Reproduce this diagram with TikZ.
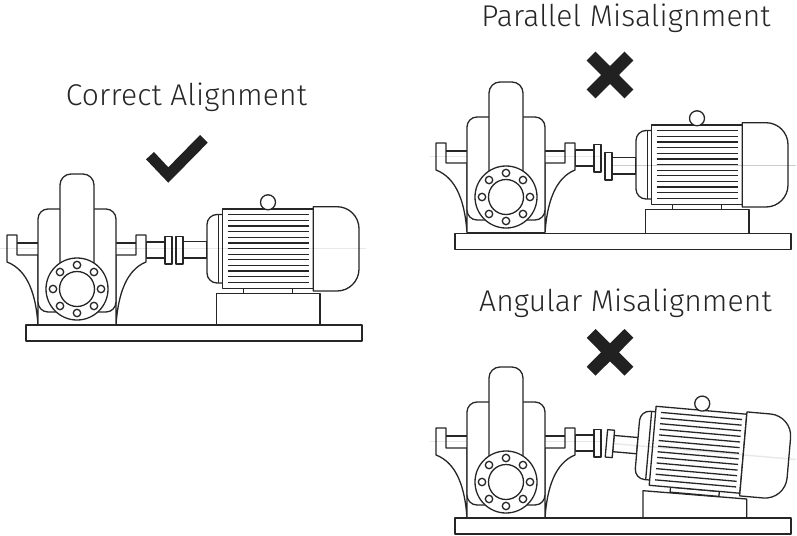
\documentclass[tikz,border=0pt]{standalone}
\usepackage{fontspec}
\setmainfont{Fira Sans Light}
\tikzset{
  x=1pt,y=-1pt,
  title node/.style={font=\fontsize{30}{34}\selectfont\addfontfeature{LetterSpace=0.5},text=black!85,inner sep=0pt,anchor=center},
  part/.style={draw=black!85,line width=1.3pt,fill=white,line join=round},
  fin/.style={draw=black!85,line width=1.3pt},
  axis line/.style={draw=black,opacity=0.09,line width=1.4pt},
  mark sign/.style={fill=black!87,draw=none},
  pump/.pic={
    % shaft and half coupling
    \draw[part] (146,242) rectangle (165,258);
    \draw[part] (165,236.5) rectangle (172,264);
    % feet and brackets
    \draw[part] (7,235) -- (17,235) -- (17,255) -- (38,255) -- (38,325) .. controls (36,295) and (28,270) .. (7,262) -- cycle;
    \draw[part] (146,235) -- (136,235) -- (136,255) -- (116,255) -- (116,325) .. controls (118,295) and (126,270) .. (146,262) -- cycle;
    \draw[fin] (17,243) -- (38,243) (136,243) -- (116,243) (38,325) -- (116,325);
    % housing
    \draw[part,rounded corners=10] (38,209) rectangle (116,312);
    \draw[part] (60,270) [rounded corners=11] -- (60,174) -- (94,174) [sharp corners] -- (94,270);
    % flange
    \draw[part] (77,289) circle[radius=31];
    \draw[part] (77,289) circle[radius=17.5];
    \foreach \a in {0,45,...,315}
      \draw[part] (77,289) ++(\a:24) circle[radius=3.7];
  },
  motor/.pic={
    \draw[part] (183,241.7) rectangle (207,258);
    \draw[part] (176,236.5) rectangle (183,264);
    \draw[part] (243.7,288.3) rectangle (292.7,293.3);
    \draw[part] (222,214.5) [rounded corners=10] -- (207,214.5) -- (207,283) [sharp corners] -- (222,283);
    \draw[fin] (218.3,214.5) -- (218.3,283);
    \draw[part] (222.3,209) rectangle (313.3,288.3);
    \foreach \i in {0,...,12}
      \draw[fin] (227.7,214.7+5.64*\i) -- (309,214.7+5.64*\i);
    \draw[part] (268,202.3) circle[radius=7.5];
    \draw[part] (313.3,206.7) [rounded corners=22] -- (359,206.7) -- (359,291) [sharp corners] -- (313.3,291) -- cycle;
  },
  base plate/.pic={
    \draw[part] (26,325) rectangle (362,341);
  },
  cross sign/.pic={
    \fill[mark sign] (-14.5,-23.3) -- (0,-9) -- (14.5,-23.3) -- (23.3,-14.5) -- (9,0) -- (23.3,14.5) -- (14.5,23.3) -- (0,9) -- (-14.5,23.3) -- (-23.3,14.5) -- (-9,0) -- (-23.3,-14.5) -- cycle;
  }
}
\begin{document}
\begin{tikzpicture}
\useasboundingbox (0,0) rectangle (797,535);
% correct alignment
\node[title node] (correct) at (186.5,97) {Correct Alignment};
\pic {pump};
\pic {motor};
\pic {base plate};
\draw[part] (216.7,293.3) rectangle (320,325);
\draw[axis line] (0,248.5) -- (38,248.5) (116,248.5) -- (366,248.5);
\fill[mark sign] (146,159.3) -- (154,152) -- (168.3,167.3) -- (200,135) -- (207.7,142.7) -- (168.3,182.7) -- cycle;
% parallel misalignment
\node[title node] (parallel) at (626,18.5) {Parallel Misalignment};
\pic[shift={(429,-92)}] {pump};
\pic[shift={(429,-84)}] {motor};
\pic[shift={(429,-91.5)}] {base plate};
\draw[part] (645.7,209.3) rectangle (749,233.5);
\draw[axis line] (430,156.5) -- (467,156.5) (545,156.5) -- (600,156.5);
\draw[axis line,opacity=0.2] (612,165.5) -- (796,165.5);
\pic at (610,75) {cross sign};
% angular misalignment
\node[title node] (angular) at (625.5,303) {Angular Misalignment};
\pic[shift={(429,193)}] {pump};
\draw[part] (643,490.7) -- (746.7,499) -- (746.7,518.3) -- (643,518.3) -- cycle;
\pic[shift={(698,449.7)},rotate=-5,shift={(-267.8,-248.6)}] {motor};
\pic[shift={(429,193)}] {base plate};
\draw[axis line] (430,441.5) -- (467,441.5) (545,441.5) -- (600,441.5);
\draw[axis line] (612,443.5) -- (796,459.5);
\pic at (610,352.3) {cross sign};
\end{tikzpicture}
\end{document}
